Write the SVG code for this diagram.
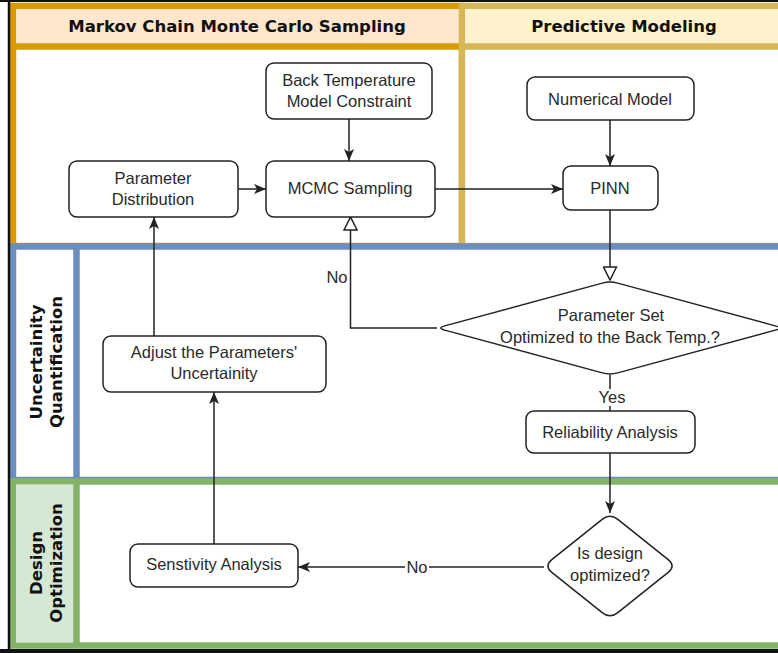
<svg xmlns="http://www.w3.org/2000/svg" width="778" height="653" viewBox="0 0 778 653">
  <style>
    .node rect, .node path { fill: #ffffff; stroke: #222222; stroke-width: 1.5; }
    .lbl { font-family: "Liberation Sans", Arial, sans-serif; font-size: 16.5px; fill: #2a2a2a; text-anchor: middle; }
    .hdr { font-family: "DejaVu Sans", Verdana, sans-serif; font-weight: bold; font-size: 16.5px; fill: #111111; text-anchor: middle; }
    .edge { fill: none; stroke: #222222; stroke-width: 1.5; }
    .pool { stroke-width: 6.5; }
  </style>
  <defs>
    <marker id="arrow" viewBox="0 0 12 10" refX="12" refY="5" markerWidth="12" markerHeight="10" orient="auto" markerUnits="userSpaceOnUse">
      <path d="M0,0 L12,5 L0,10 L3,5 Z" fill="#222222"/>
    </marker>
    <marker id="block" viewBox="0 0 15 15" refX="14" refY="7.5" markerWidth="15" markerHeight="15" orient="auto" markerUnits="userSpaceOnUse">
      <path d="M1,1 L14,7.5 L1,14 Z" fill="#ffffff" stroke="#222222" stroke-width="1.5"/>
    </marker>
  </defs>

  <rect width="778" height="653" fill="#ffffff"/>

  <!-- swimlanes -->
  <g id="lane-mcmc">
    <rect class="pool" x="13" y="6" width="449" height="240" fill="#ffffff" stroke="#D79B00"/>
    <rect x="16" y="9" width="443" height="37.5" fill="#FFE6CC"/>
    <line class="pool" x1="13" y1="46.5" x2="462" y2="46.5" stroke="#D79B00"/>
    <text class="hdr" x="237" y="32">Markov Chain Monte Carlo Sampling</text>
  </g>
  <g id="lane-predictive">
    <rect class="pool" x="462" y="6" width="330" height="240" fill="#ffffff" stroke="#D6B656"/>
    <rect x="465" y="9" width="324" height="37.5" fill="#FFF2CC"/>
    <line class="pool" x1="462" y1="46.5" x2="792" y2="46.5" stroke="#D6B656"/>
    <text class="hdr" x="624" y="32">Predictive Modeling</text>
  </g>
  <g id="lane-uncertainty">
    <rect class="pool" x="13" y="246.5" width="780" height="233.5" fill="#ffffff" stroke="#6C8EBF"/>
    <line class="pool" x1="76.5" y1="246.5" x2="76.5" y2="480" stroke="#6C8EBF"/>
    <text class="hdr" transform="translate(45,362) rotate(-90)"><tspan x="0" y="-3">Uncertainity</tspan><tspan x="0" y="17">Quantification</tspan></text>
  </g>
  <g id="lane-design">
    <rect class="pool" x="13" y="481.5" width="780" height="164" fill="#ffffff" stroke="#82B366"/>
    <rect x="16" y="484.5" width="60.5" height="158" fill="#D5E8D4"/>
    <line class="pool" x1="76.5" y1="481.5" x2="76.5" y2="645.5" stroke="#82B366"/>
    <text class="hdr" transform="translate(45,563) rotate(-90)"><tspan x="0" y="-3">Design</tspan><tspan x="0" y="17">Optimization</tspan></text>
  </g>

  <!-- frame -->
  <g id="frame" fill="none" stroke="#111111">
    <line x1="0" y1="1" x2="778" y2="1" stroke-width="2"/>
    <line x1="9" y1="0" x2="9" y2="653" stroke-width="2.5"/>
    <line x1="0" y1="651" x2="778" y2="651" stroke-width="4"/>
  </g>

  <!-- connectors -->
  <g id="connectors">
    <path class="edge" d="M349,119 L349,161" marker-end="url(#arrow)"/>
    <path class="edge" d="M238,189 L266,189" marker-end="url(#arrow)"/>
    <path class="edge" d="M435,189 L563,189" marker-end="url(#arrow)"/>
    <path class="edge" d="M610,120 L610,166" marker-end="url(#arrow)"/>
    <path class="edge" d="M610,210 L610,280" marker-end="url(#block)"/>
    <path class="edge" d="M437,328 L350.5,328 L350.5,217" marker-end="url(#block)"/>
    <path class="edge" d="M610,375 L610,411"/>
    <path class="edge" d="M610,453 L610,513" marker-end="url(#arrow)"/>
    <path class="edge" d="M544,567 L298,567" marker-end="url(#arrow)"/>
    <path class="edge" d="M214,544 L214,392" marker-end="url(#arrow)"/>
    <path class="edge" d="M154,336 L154,217" marker-end="url(#arrow)"/>
    <text class="lbl" x="337" y="283">No</text>
    <rect x="598" y="389" width="28" height="17" fill="#ffffff"/>
    <text class="lbl" x="612" y="403">Yes</text>
    <rect x="405" y="558" width="24" height="18" fill="#ffffff"/>
    <text class="lbl" x="417" y="573">No</text>
  </g>

  <!-- nodes -->
  <g id="back-temperature" class="node">
    <rect x="266" y="63" width="166" height="56" rx="8"/>
    <text class="lbl" x="349" y="86">Back Temperature</text>
    <text class="lbl" x="349" y="107">Model Constraint</text>
  </g>
  <g id="parameter-distribution" class="node">
    <rect x="69" y="161" width="169" height="56" rx="8"/>
    <text class="lbl" x="153" y="184">Parameter</text>
    <text class="lbl" x="153" y="205">Distribution</text>
  </g>
  <g id="mcmc-sampling" class="node">
    <rect x="266" y="161" width="169" height="56" rx="8"/>
    <text class="lbl" x="350" y="194">MCMC Sampling</text>
  </g>
  <g id="numerical-model" class="node">
    <rect x="527" y="77" width="167" height="43" rx="8"/>
    <text class="lbl" x="610" y="105">Numerical Model</text>
  </g>
  <g id="pinn" class="node">
    <rect x="563" y="166" width="95" height="44" rx="8"/>
    <text class="lbl" x="610" y="194">PINN</text>
  </g>
  <g id="parameter-set-check" class="node">
    <path d="M602.3,283.1 Q610,281 617.7,283.1 L775.3,325.9 Q783,328 775.3,330.1 L617.7,372.9 Q610,375 602.3,372.9 L444.7,330.1 Q437,328 444.7,325.9 Z"/>
    <text class="lbl" x="611" y="321">Parameter Set</text>
    <text class="lbl" x="610" y="343">Optimized to the Back Temp.?</text>
  </g>
  <g id="reliability-analysis" class="node">
    <rect x="526" y="411" width="169" height="42" rx="8"/>
    <text class="lbl" x="610" y="438">Reliability Analysis</text>
  </g>
  <g id="adjust-uncertainty" class="node">
    <rect x="103" y="336" width="223" height="56" rx="8"/>
    <text class="lbl" x="214" y="358">Adjust the Parameters'</text>
    <text class="lbl" x="214" y="379">Uncertainity</text>
  </g>
  <g id="design-check" class="node">
    <path d="M602.2,519.3 Q610,513 617.8,519.3 L668.2,559.7 Q676,566 668.2,572.3 L617.8,612.7 Q610,619 602.2,612.7 L551.8,572.3 Q544,566 551.8,559.7 Z"/>
    <text class="lbl" x="610" y="559">Is design</text>
    <text class="lbl" x="610" y="581">optimized?</text>
  </g>
  <g id="sensitivity-analysis" class="node">
    <rect x="130" y="544" width="168" height="43" rx="8"/>
    <text class="lbl" x="214" y="570">Senstivity Analysis</text>
  </g>
</svg>
